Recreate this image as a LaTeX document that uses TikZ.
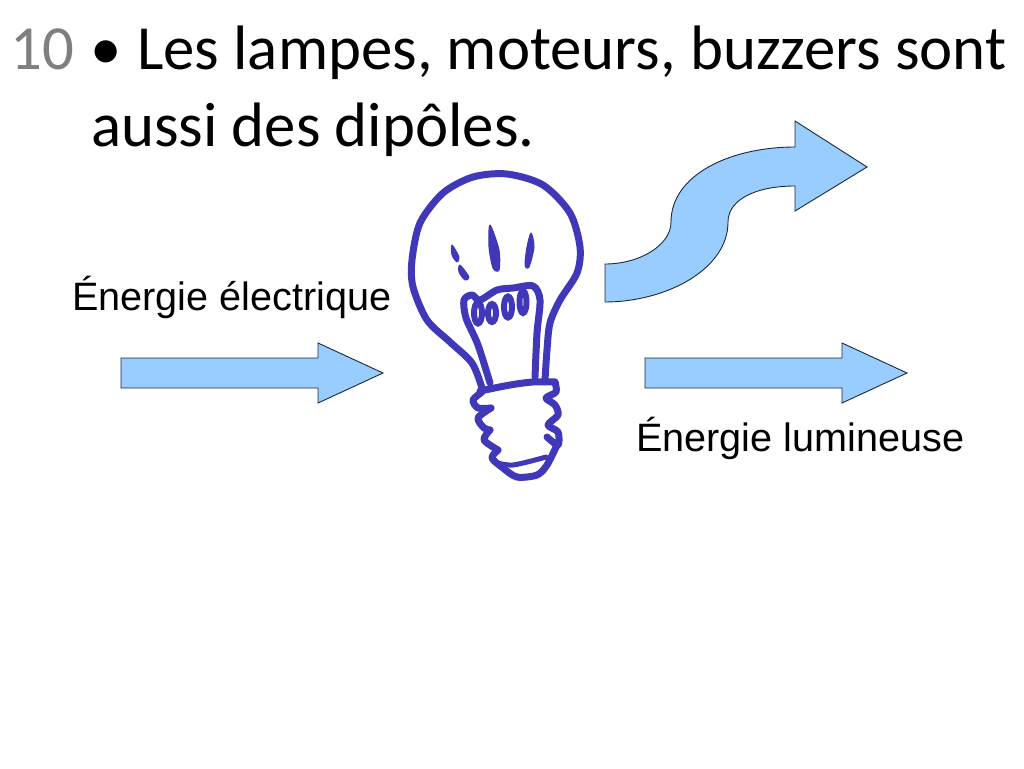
\documentclass[tikz,border=0pt]{standalone}
\usepackage{fontspec}
\setmainfont{Carlito}
\newfontfamily\labelfont{Liberation Sans}
\definecolor{arrowblue}{HTML}{99CCFF}
\definecolor{arrowline}{HTML}{1A2A3A}
\definecolor{bulbblue}{HTML}{4038B8}
\definecolor{numgray}{HTML}{7F7F7F}
\tikzset{
	blockarrow/.style={draw=arrowline, fill=arrowblue, line width=0.9pt, line join=miter},
	bulbline/.style={draw=bulbblue, line width=7pt, line cap=round, line join=round},
	coilline/.style={draw=bulbblue, line width=6pt},
	rayshape/.style={fill=bulbblue, draw=bulbblue, line width=1pt, line join=round},
	titletext/.style={anchor=base west, inner sep=0pt, font=\fontsize{62.8}{62.8}\selectfont},
	labeltext/.style={anchor=base west, inner sep=0pt, font=\labelfont\fontsize{39.6}{39.6}\selectfont},
}
\begin{document}
\begin{tikzpicture}[x=1pt, y=-1pt]
	\useasboundingbox (0,0) rectangle (1024,768);
	% title
	\node[titletext, text=numgray] (num) at (10,69) {10};
	\node[titletext] (dot) at (90,69) {•};
	\node[titletext] (line1) at (137,69) {Les lampes, moteurs, buzzers sont};
	\node[titletext] (line2) at (91,146) {aussi des dipôles.};
	% labels
	\node[labeltext] (elec) at (72,310) {Énergie électrique};
	\node[labeltext] (lum) at (636,451) {Énergie lumineuse};
	% arrows
	\draw[blockarrow] (121,358) -- (318,358) -- (318,343) -- (383,373) -- (318,403) -- (318,388) -- (121,388) -- cycle;
	\draw[blockarrow] (645,358) -- (842,358) -- (842,343) -- (907,373) -- (842,403) -- (842,388) -- (645,388) -- cycle;
	\draw[blockarrow] (605,264) .. controls (640,264) and (671,245) .. (671,222)
		.. controls (671,175) and (730,147) .. (795,147) -- (795,121) -- (867,167) -- (795,211) -- (795,186)
		.. controls (755,186) and (728,200) .. (728,222)
		.. controls (728,270) and (665,302) .. (605,302) -- cycle;
	% bulb
	\draw[bulbline] plot[smooth] coordinates {(482,388) (472,363) (450,342) (427,320) (413,287) (412,260) (420,223) (443,193) (473,177) (507,174) (543,185) (570,213) (580,247) (577,273) (560,300) (550,323) (547,350) (545,380)};
	\draw[bulbline] plot[smooth] coordinates {(480,391) (510,385) (533,382) (555,382)};
	\draw[bulbline] plot[smooth] coordinates {(482,392) (473,400) (478,408) (491,408)};
	\draw[bulbline] plot[smooth] coordinates {(491,408) (478,418) (484,428) (490,430)};
	\draw[bulbline] plot[smooth] coordinates {(490,430) (484,440) (498,450)};
	\draw[bulbline] plot[smooth] coordinates {(498,450) (492,458) (503,468) (517,477) (537,475) (547,465) (557,445)};
	\draw[bulbline, line width=5pt] plot[smooth] coordinates {(494,462) (513,465) (546,457)};
	\draw[bulbline] plot[smooth] coordinates {(555,382) (556,392) (546,398) (555,405) (558,415) (548,425) (558,432) (558,445) (547,437)};
	% filament
	\draw[bulbline] plot[smooth] coordinates {(490,383) (478,345) (466,318) (464,300) (472,295) (480,300) (497,290) (513,288) (533,286) (540,300) (537,333) (535,377)};
	\draw[coilline] (478,313) ellipse (4pt and 10.5pt);
	\draw[coilline] (492,313) ellipse (4pt and 9pt);
	\draw[coilline] (508,307) ellipse (4pt and 10.5pt);
	\draw[coilline] (523,302) ellipse (3.5pt and 11pt);
	% rays
	\draw[rayshape] plot[smooth cycle] coordinates {(452,245) (459,257) (457,262) (452,255)};
	\draw[rayshape] plot[smooth cycle] coordinates {(460,265) (469,277) (465,280) (459,272)};
	\draw[rayshape] plot[smooth cycle] coordinates {(490,225) (499,250) (499,270) (493,268) (489,247)};
	\draw[rayshape] plot[smooth cycle] coordinates {(531,233) (534,247) (529,267) (525,265) (527,247)};
\end{tikzpicture}
\end{document}
